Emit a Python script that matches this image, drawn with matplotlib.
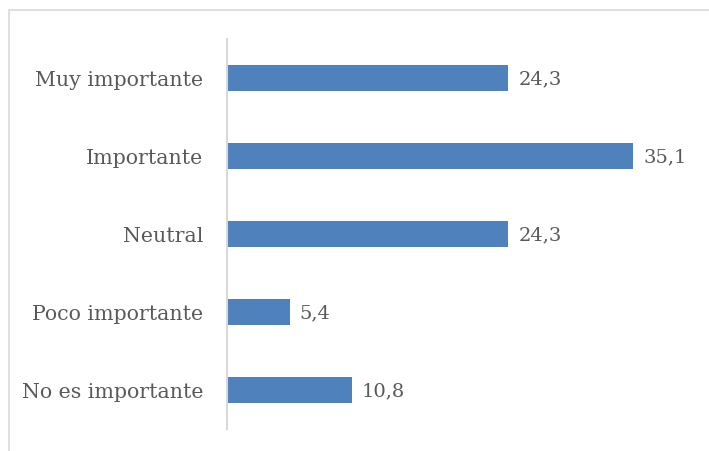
import matplotlib.pyplot as plt
from matplotlib.patches import Rectangle

# Data (top to bottom as in the chart)
categories = ['Muy importante', 'Importante', 'Neutral', 'Poco importante', 'No es importante']
values = [24.3, 35.1, 24.3, 5.4, 10.8]

bar_color = '#4F81BD'
text_color = '#595959'
line_color = '#D9D9D9'

plt.rcParams['font.family'] = ['DejaVu Serif']

fig = plt.figure(figsize=(7.09, 4.52), dpi=100)
ax = fig.add_axes([227 / 709, 22 / 452, 463 / 709, 390 / 452])

# outer chart border (left/top visible, runs off the right/bottom)
fig.patches.append(Rectangle((8.5 / 709, -0.1), 1.2, 441.5 / 452 + 0.1,
                             transform=fig.transFigure, fill=False,
                             edgecolor=line_color, linewidth=1.2))

ypos = list(range(len(categories)))[::-1]
ax.barh(ypos, values, height=0.34, color=bar_color)

ax.set_xlim(0, 40)
ax.set_ylim(-0.5, len(categories) - 0.5)
ax.set_yticks(ypos)
ax.set_yticklabels(categories, fontsize=14.8, color=text_color)
ax.tick_params(axis='y', length=0, pad=17)
ax.set_xticks([])

for s in ['top', 'right', 'bottom']:
    ax.spines[s].set_visible(False)
ax.spines['left'].set_color(line_color)
ax.spines['left'].set_linewidth(1.5)

for y, v in zip(ypos, values):
    ax.annotate(f'{v:.1f}'.replace('.', ','), (v, y), xytext=(10, 0),
                textcoords='offset pixels', va='center', ha='left',
                fontsize=14, color=text_color)

fig.savefig('out.png', dpi=100)
